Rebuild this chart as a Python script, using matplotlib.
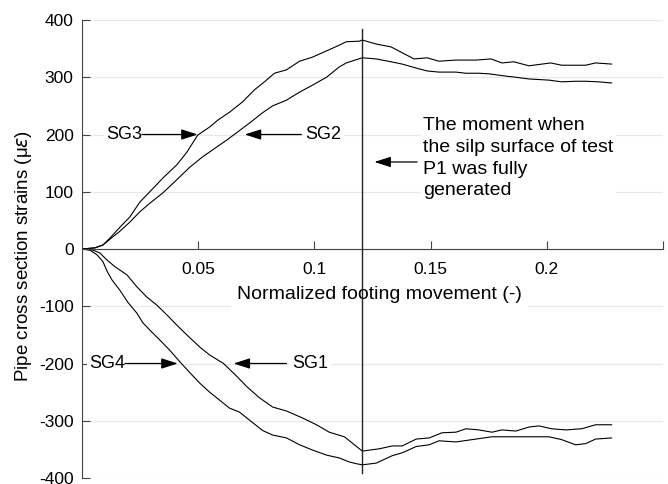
import matplotlib
matplotlib.use("Agg")
import matplotlib.pyplot as plt

plt.rcParams['font.family'] = ['Liberation Sans', 'DejaVu Sans']

# Strain gauge readings vs normalized footing movement
sg3_x = [0, 0.0056, 0.009, 0.012, 0.0163, 0.0206, 0.0249, 0.0292, 0.0348, 0.0408, 0.0451,
         0.0498, 0.0549, 0.0584, 0.0635, 0.0691, 0.0742, 0.0785, 0.0828, 0.088, 0.0936, 0.0991,
         0.1107, 0.1137, 0.1193, 0.1206, 0.1266, 0.133, 0.1386, 0.1429, 0.1485, 0.1536, 0.1609,
         0.1695, 0.176, 0.1807, 0.1858, 0.1923, 0.2017, 0.2064, 0.2167, 0.221, 0.2279]
sg3_y = [0, 2, 7, 19, 38, 56, 82, 100, 124, 147, 169, 199, 213, 225, 239, 257, 278, 292, 307,
         313, 328, 335, 356, 362, 363, 365, 358, 353, 341, 332, 334, 328, 330, 330, 332, 325,
         327, 320, 325, 321, 321, 325, 323]

sg2_x = [0, 0.0056, 0.009, 0.012, 0.0163, 0.0206, 0.0249, 0.0292, 0.0348, 0.0408, 0.0464,
         0.0519, 0.0579, 0.0622, 0.0665, 0.0721, 0.0777, 0.082, 0.088, 0.0936, 0.0991, 0.1052,
         0.1107, 0.1137, 0.1206, 0.1266, 0.133, 0.1378, 0.1438, 0.1485, 0.1536, 0.1609, 0.1652,
         0.1708, 0.1751, 0.1824, 0.1867, 0.1923, 0.2009, 0.2064, 0.2124, 0.2167, 0.2223, 0.2279]
sg2_y = [0, 2, 7, 17, 31, 47, 65, 80, 98, 121, 143, 161, 178, 190, 203, 220, 238, 250, 260,
         274, 286, 300, 318, 325, 334, 332, 327, 323, 316, 311, 309, 309, 307, 307, 306, 302,
         300, 297, 295, 292, 293, 293, 292, 290]

sg4_x = [0, 0.0034, 0.0064, 0.009, 0.0107, 0.0129, 0.0163, 0.0197, 0.0236, 0.0262, 0.03,
         0.0335, 0.0378, 0.0421, 0.0464, 0.0506, 0.0549, 0.0592, 0.0635, 0.0678, 0.0721, 0.0777,
         0.082, 0.088, 0.0936, 0.0991, 0.1052, 0.1107, 0.115, 0.118, 0.1206, 0.1266, 0.1335,
         0.1378, 0.1438, 0.1494, 0.1536, 0.1609, 0.1695, 0.1764, 0.185, 0.1923, 0.2009, 0.2064,
         0.2124, 0.2167, 0.221, 0.2279]
sg4_y = [0, -2, -10, -22, -38, -54, -72, -93, -112, -129, -145, -159, -177, -197, -216, -234,
         -250, -264, -278, -285, -299, -317, -325, -330, -342, -351, -360, -365, -372, -375,
         -377, -374, -361, -356, -345, -342, -335, -337, -332, -328, -328, -328, -328, -333,
         -342, -340, -332, -330]

sg1_x = [0, 0.0047, 0.0077, 0.0107, 0.0142, 0.0193, 0.0236, 0.0279, 0.0322, 0.0365, 0.0408,
         0.0451, 0.0506, 0.0549, 0.0609, 0.0665, 0.0708, 0.0764, 0.082, 0.088, 0.0948, 0.1009,
         0.1064, 0.1129, 0.1163, 0.1206, 0.1279, 0.1335, 0.1378, 0.1438, 0.1494, 0.1549, 0.1609,
         0.1652, 0.1708, 0.1764, 0.1807, 0.1867, 0.1923, 0.1966, 0.2021, 0.2082, 0.215, 0.221,
         0.2279]
sg1_y = [0, -2, -7, -19, -31, -45, -66, -84, -98, -115, -133, -150, -171, -185, -200, -222,
         -240, -260, -276, -283, -295, -307, -320, -328, -339, -353, -349, -344, -344, -332,
         -330, -321, -320, -314, -316, -320, -316, -318, -311, -309, -314, -316, -314, -307,
         -307]

x_ticks = [0.05, 0.1, 0.15, 0.2, 0.25]
x_tick_labels = ['0.05', '0.1', '0.15', '0.2', '']
y_ticks = [-400, -300, -200, -100, 0, 100, 200, 300, 400]
y_tick_labels = ['-400', '-300', '-200', '-100', '0', '100', '200', '300', '400']

# moment the slip surface was fully generated
moment_x = 0.1206
moment_y_range = (-392, 385)

fig = plt.figure(figsize=(6.68, 4.84), dpi=100)
ax = fig.add_axes([82 / 668, 6 / 484, 581 / 668, 458 / 484])

for xs, ys in [(sg3_x, sg3_y), (sg2_x, sg2_y), (sg4_x, sg4_y), (sg1_x, sg1_y)]:
    ax.plot(xs, ys, color='black', lw=0.8, zorder=2)

ax.plot([moment_x, moment_x], moment_y_range, color='#222222', lw=1.0, zorder=5)

ax.set_xlim(0, 0.25)
ax.set_ylim(-400, 400)

# axis lines: y axis on the left, x axis through zero
ax.spines['top'].set_visible(False)
ax.spines['right'].set_visible(False)
ax.spines['bottom'].set_position(('data', 0))
ax.spines['bottom'].set_color('#444444')
ax.spines['left'].set_color('#444444')

ax.set_xticks(x_ticks)
ax.set_xticklabels(x_tick_labels)
ax.set_yticks(y_ticks)
ax.set_yticklabels(y_tick_labels)
ax.tick_params(axis='x', direction='in', length=6, pad=9.5, labelsize=12.5, color='#444444')
ax.tick_params(axis='y', direction='in', length=6, pad=6, labelsize=12.5, color='#444444')

ax.set_axisbelow(True)
ax.yaxis.grid(True, color='#e8e8e8', lw=0.9)

ax.set_ylabel('Pipe cross section strains (μ$\\epsilon$)', fontsize=13.5)
ax.yaxis.set_label_coords(-0.082, 0.485)

white = dict(facecolor='white', edgecolor='none', pad=1.5)
ax.text(0.128, -80, 'Normalized footing movement (-)', fontsize=14,
        ha='center', va='center', bbox=dict(facecolor='white', edgecolor='none', pad=4), zorder=3)

arrow = dict(arrowstyle='-|>,head_length=1.0,head_width=0.32', color='black', lw=0.9,
             shrinkA=0, shrinkB=0)

# gauge labels with arrows
ax.text(0.0258, 200, 'SG3', fontsize=13, ha='right', va='center', bbox=white, zorder=3)
ax.annotate('', xy=(0.0498, 200), xytext=(0.0258, 200), arrowprops=arrow)
ax.text(0.0961, 200, 'SG2', fontsize=13, ha='left', va='center', bbox=white, zorder=3)
ax.annotate('', xy=(0.070, 200), xytext=(0.0944, 200), arrowprops=arrow)
ax.text(0.0185, -200, 'SG4', fontsize=13, ha='right', va='center', bbox=white, zorder=3)
ax.annotate('', xy=(0.0412, -200), xytext=(0.0185, -200), arrowprops=arrow)
ax.text(0.0906, -200, 'SG1', fontsize=13, ha='left', va='center', bbox=white, zorder=3)
ax.annotate('', xy=(0.0652, -200), xytext=(0.088, -200), arrowprops=arrow)

ax.text(0.1468, 230, 'The moment when\nthe silp surface of test\nP1 was fully\ngenerated',
        fontsize=14, ha='left', va='top', linespacing=1.36, bbox=white, zorder=3)
ax.annotate('', xy=(0.1258, 152), xytext=(0.1442, 152), arrowprops=arrow)

fig.savefig('out.png', dpi=100)
